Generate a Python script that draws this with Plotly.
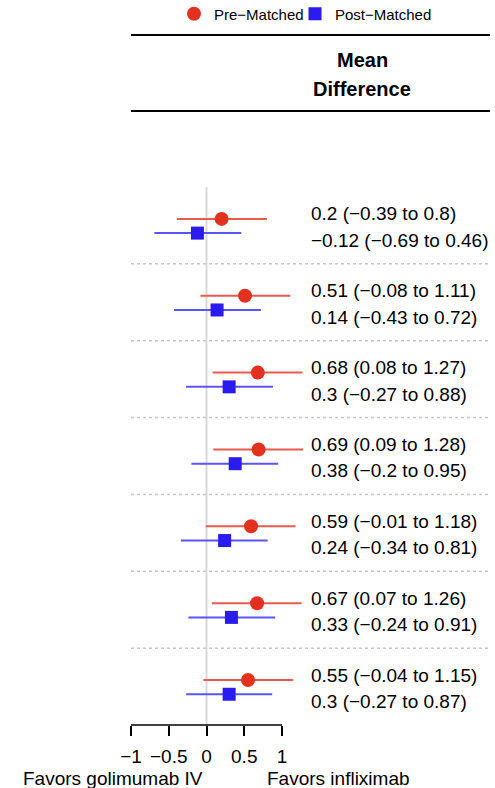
import plotly.graph_objects as go

# ---- data ----
rows = [1, 2, 3, 4, 5, 6, 7]
pre_mean = [0.2, 0.51, 0.68, 0.69, 0.59, 0.67, 0.55]
pre_lo = [-0.39, -0.08, 0.08, 0.09, -0.01, 0.07, -0.04]
pre_hi = [0.8, 1.11, 1.27, 1.28, 1.18, 1.26, 1.15]
post_mean = [-0.12, 0.14, 0.3, 0.38, 0.24, 0.33, 0.3]
post_lo = [-0.69, -0.43, -0.27, -0.2, -0.34, -0.24, -0.27]
post_hi = [0.46, 0.72, 0.88, 0.95, 0.81, 0.91, 0.87]
tick_vals = [-1, -0.5, 0, 0.5, 1]
tick_text = ["\u22121", "\u22120.5", "0", "0.5", "1"]

FONT = "Liberation Sans, Arial, Helvetica, sans-serif"
RED = "#E2321F"
RED_L = "#E85A50"
BLUE = "#2A1BF0"
BLUE_L = "#5A55FA"

W, H = 495, 788
L, R, T, B = 131, 5, 187, 63
PH = H - T - B  # plot height in px


def py(px):
    """pixel row (from top) -> paper y"""
    return (H - B - px) / PH


def fmt(v):
    return str(v).replace("-", "\u2212")


def lab(m, lo, hi):
    return f"{fmt(m)} ({fmt(lo)} to {fmt(hi)})"


pre_y = [r - 0.085 for r in rows]
post_y = [r + 0.10 for r in rows]

fig = go.Figure()
fig.add_trace(go.Scatter(
    x=pre_mean, y=pre_y, mode="markers", name="Pre\u2212Matched", legend="legend",
    marker=dict(symbol="circle", size=14, color=RED),
    error_x=dict(type="data", symmetric=False,
                 array=[h - m for h, m in zip(pre_hi, pre_mean)],
                 arrayminus=[m - l for m, l in zip(pre_mean, pre_lo)],
                 color=RED_L, thickness=2, width=0),
))
fig.add_trace(go.Scatter(
    x=post_mean, y=post_y, mode="markers", name="Post\u2212Matched", legend="legend2",
    marker=dict(symbol="square", size=13, color=BLUE),
    error_x=dict(type="data", symmetric=False,
                 array=[h - m for h, m in zip(post_hi, post_mean)],
                 arrayminus=[m - l for m, l in zip(post_mean, post_lo)],
                 color=BLUE_L, thickness=2, width=0),
))

shapes = []
shapes.append(dict(type="line", xref="x", yref="paper", x0=0, x1=0, y0=0, y1=1,
                   line=dict(color="#D9D9D9", width=2), layer="below"))
for r in rows[:-1]:
    shapes.append(dict(type="line", xref="paper", yref="y", x0=0, x1=1,
                       y0=r + 0.5, y1=r + 0.5,
                       line=dict(color="#C8C8C8", width=1.5, dash="dot"), layer="below"))
shapes.append(dict(type="line", xref="x", yref="paper", x0=tick_vals[0], x1=tick_vals[-1],
                   y0=0, y1=0, line=dict(color="black", width=1.5)))
for ypx in [35, 111]:
    shapes.append(dict(type="line", xref="paper", yref="paper", x0=0, x1=1,
                       y0=py(ypx), y1=py(ypx), line=dict(color="black", width=2)))

TX = (309 - L) / (W - L - R)
annotations = []
for r, m, lo, hi in zip(rows, pre_mean, pre_lo, pre_hi):
    annotations.append(dict(xref="paper", yref="y", x=TX, y=r - 0.15,
                            text=lab(m, lo, hi), showarrow=False, xanchor="left",
                            yanchor="middle", font=dict(size=19, color="black", family=FONT)))
for r, m, lo, hi in zip(rows, post_mean, post_lo, post_hi):
    annotations.append(dict(xref="paper", yref="y", x=TX, y=r + 0.195,
                            text=lab(m, lo, hi), showarrow=False, xanchor="left",
                            yanchor="middle", font=dict(size=19, color="black", family=FONT)))
HX = (362 - L) / (W - L - R)
annotations.append(dict(xref="paper", yref="paper", x=HX, y=py(59.5), text="<b>Mean</b>",
                        showarrow=False, xanchor="center", yanchor="middle",
                        font=dict(size=20, color="black", family=FONT)))
annotations.append(dict(xref="paper", yref="paper", x=HX, y=py(88.5), text="<b>Difference</b>",
                        showarrow=False, xanchor="center", yanchor="middle",
                        font=dict(size=20, color="black", family=FONT)))
annotations.append(dict(xref="x", yref="paper", x=-0.02, y=py(778), text="Favors golimumab IV",
                        showarrow=False, xanchor="right", yanchor="middle",
                        font=dict(size=19, color="black", family=FONT)))
annotations.append(dict(xref="x", yref="paper", x=0.775, y=py(778), text="Favors infliximab",
                        showarrow=False, xanchor="left", yanchor="middle",
                        font=dict(size=19, color="black", family=FONT)))

leg_common = dict(orientation="h", yanchor="middle", y=py(14),
                  font=dict(size=15, color="black", family=FONT),
                  bgcolor="rgba(0,0,0,0)", borderwidth=0)

fig.update_layout(
    width=W, height=H,
    margin=dict(l=L, r=R, t=T, b=B, autoexpand=False),
    paper_bgcolor="white", plot_bgcolor="white",
    font=dict(family=FONT, color="black"),
    xaxis=dict(range=[-1, -1 + (W - L - R) / 75.5], showgrid=False, zeroline=False, showline=False,
               tickmode="array", tickvals=tick_vals, ticktext=tick_text,
               ticks="outside", ticklen=10, tickwidth=1.5, tickcolor="black",
               ticklabelstandoff=4,
               tickfont=dict(size=19, color="black", family=FONT)),
    yaxis=dict(range=[7.5, 0.5], visible=False),
    showlegend=True,
    legend=dict(x=(174 - L) / (W - L - R), xanchor="left", **leg_common),
    legend2=dict(x=(295 - L) / (W - L - R), xanchor="left", **leg_common),
    shapes=shapes, annotations=annotations,
)

post = ("document.body.style.margin='0px';"
        "var gd=document.getElementById('{plot_id}');"
        "gd.style.position='absolute';gd.style.left='0px';gd.style.top='0px';")
fig.write_html("out.html", post_script=post, config={"displayModeBar": False})
